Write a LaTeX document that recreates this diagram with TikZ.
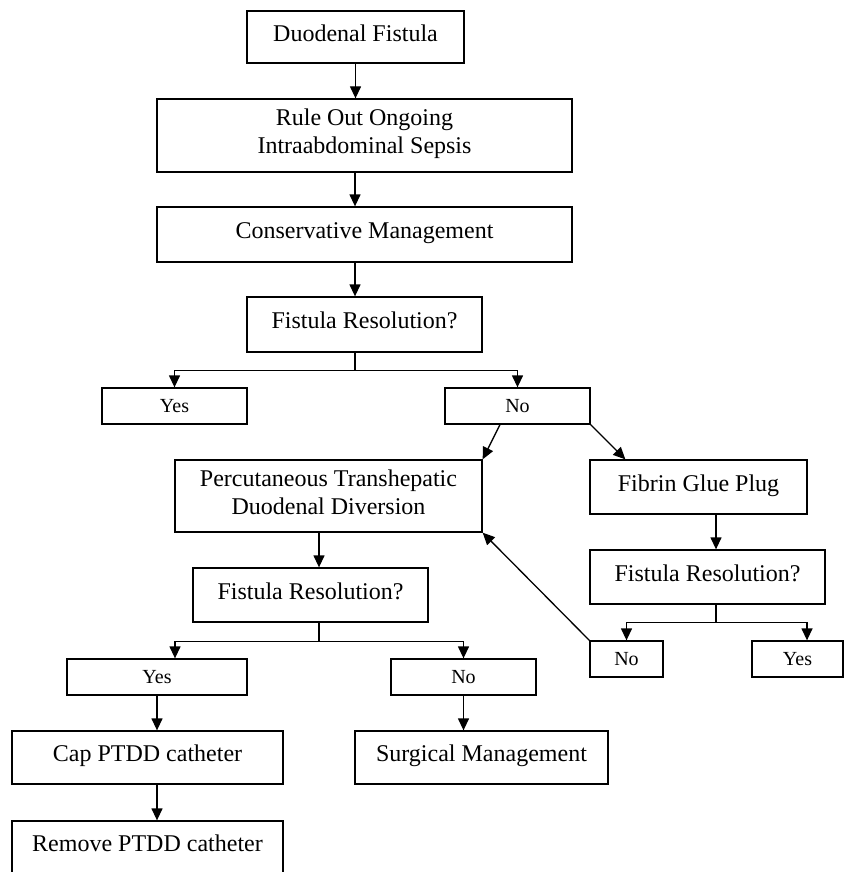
\documentclass[tikz,border=0pt]{standalone}
\usepackage{fontspec}
\setmainfont{Liberation Serif}
\usetikzlibrary{arrows.meta}
\usetikzlibrary{calc}

\begin{document}
\begin{tikzpicture}[x=1pt,y=-1pt,
    box/.style={draw,line width=1.3pt,inner sep=0pt,align=center,text depth=8pt,font=\fontsize{24}{28}\selectfont},
    ans/.style={draw,line width=1.3pt,inner sep=0pt,minimum height=36pt,font=\fontsize{20}{24}\selectfont},
    arr/.style={line width=1.3pt,-{Triangle[length=12pt,width=11pt]}}]
  \path[use as bounding box] (0,0) rectangle (845,872);

  \node[box,minimum width=217pt,minimum height=52pt] (duo) at (355.5,37) {Duodenal Fistula};
  \node[box,minimum width=415pt,minimum height=73pt] (rule) at (364.5,135.5) {Rule Out Ongoing\\Intraabdominal Sepsis};
  \node[box,minimum width=415pt,minimum height=55pt] (cons) at (364.5,234.5) {Conservative Management};
  \node[box,minimum width=235pt,minimum height=55pt] (fr1) at (364.5,324.5) {Fistula Resolution?};
  \node[ans,minimum width=145pt] (yes1) at (174.5,406) {Yes};
  \node[ans,minimum width=145pt] (no1) at (517.5,406) {No};

  \node[box,minimum width=307pt,minimum height=72pt] (ptdd) at (328.5,496) {Percutaneous Transhepatic\\Duodenal Diversion};
  \node[box,minimum width=235pt,minimum height=54pt] (fr2) at (310.5,595) {Fistula Resolution?};
  \node[ans,minimum width=180pt] (yes2) at (157,677) {Yes};
  \node[ans,minimum width=145pt] (no2) at (463.5,677) {No};
  \node[box,minimum width=271pt,minimum height=53pt] (cap) at (147.5,757.5) {Cap PTDD catheter};
  \node[box,minimum width=253pt,minimum height=53pt] (surg) at (481.5,757.5) {Surgical Management};
  \node[box,minimum width=271pt,minimum height=53pt] (remove) at (147.5,847.5) {Remove PTDD catheter};

  \node[box,minimum width=217pt,minimum height=54pt] (glue) at (698.5,487) {Fibrin Glue Plug};
  \node[box,minimum width=235pt,minimum height=54pt] (fr3) at (707.5,577) {Fistula Resolution?};
  \node[ans,minimum width=73pt] (no3) at (626.5,659) {No};
  \node[ans,minimum width=91pt] (yes3) at (797.5,659) {Yes};

  % main column
  \coordinate (s1) at (355,0);
  \draw[arr] (duo.south) -- (duo.south |- rule.north);
  \draw[arr] (rule.south -| s1) -- (cons.north -| s1);
  \draw[arr] (cons.south -| s1) -- (fr1.north -| s1);
  \draw[line width=1.3pt] (fr1.south -| s1) -- ++(0,18) coordinate (b1);
  \draw[arr] (b1) -| (yes1.north);
  \draw[arr] (b1) -| (no1.north);
  \draw[arr] ($(no1.south)+(-17.5,0)$) -- (ptdd.north east);
  \draw[arr] (no1.south east) -- ($(glue.north west)+(36,0)$);

  % PTDD branch
  \coordinate (s2) at (319,0);
  \draw[arr] (ptdd.south -| s2) -- (fr2.north -| s2);
  \draw[line width=1.3pt] (fr2.south -| s2) -- ++(0,19) coordinate (b2);
  \draw[arr] (b2) -| ($(yes2.north)+(18,0)$);
  \draw[arr] (b2) -| (no2.north);
  \draw[arr] (yes2.south) -- (yes2.south |- cap.north);
  \draw[arr] (cap.south -| yes2.south) -- (remove.north -| yes2.south);
  \draw[arr] (no2.south) -- (no2.south |- surg.north);

  % fibrin glue branch
  \coordinate (s3) at (716,0);
  \draw[arr] (glue.south -| s3) -- (fr3.north -| s3);
  \draw[line width=1.3pt] (fr3.south -| s3) -- ++(0,18) coordinate (b3);
  \draw[arr] (b3) -| (no3.north);
  \draw[arr] (b3) -| ($(yes3.north)+(9.5,0)$);
  \draw[arr] (no3.north west) -- (ptdd.south east);
\end{tikzpicture}
\end{document}
